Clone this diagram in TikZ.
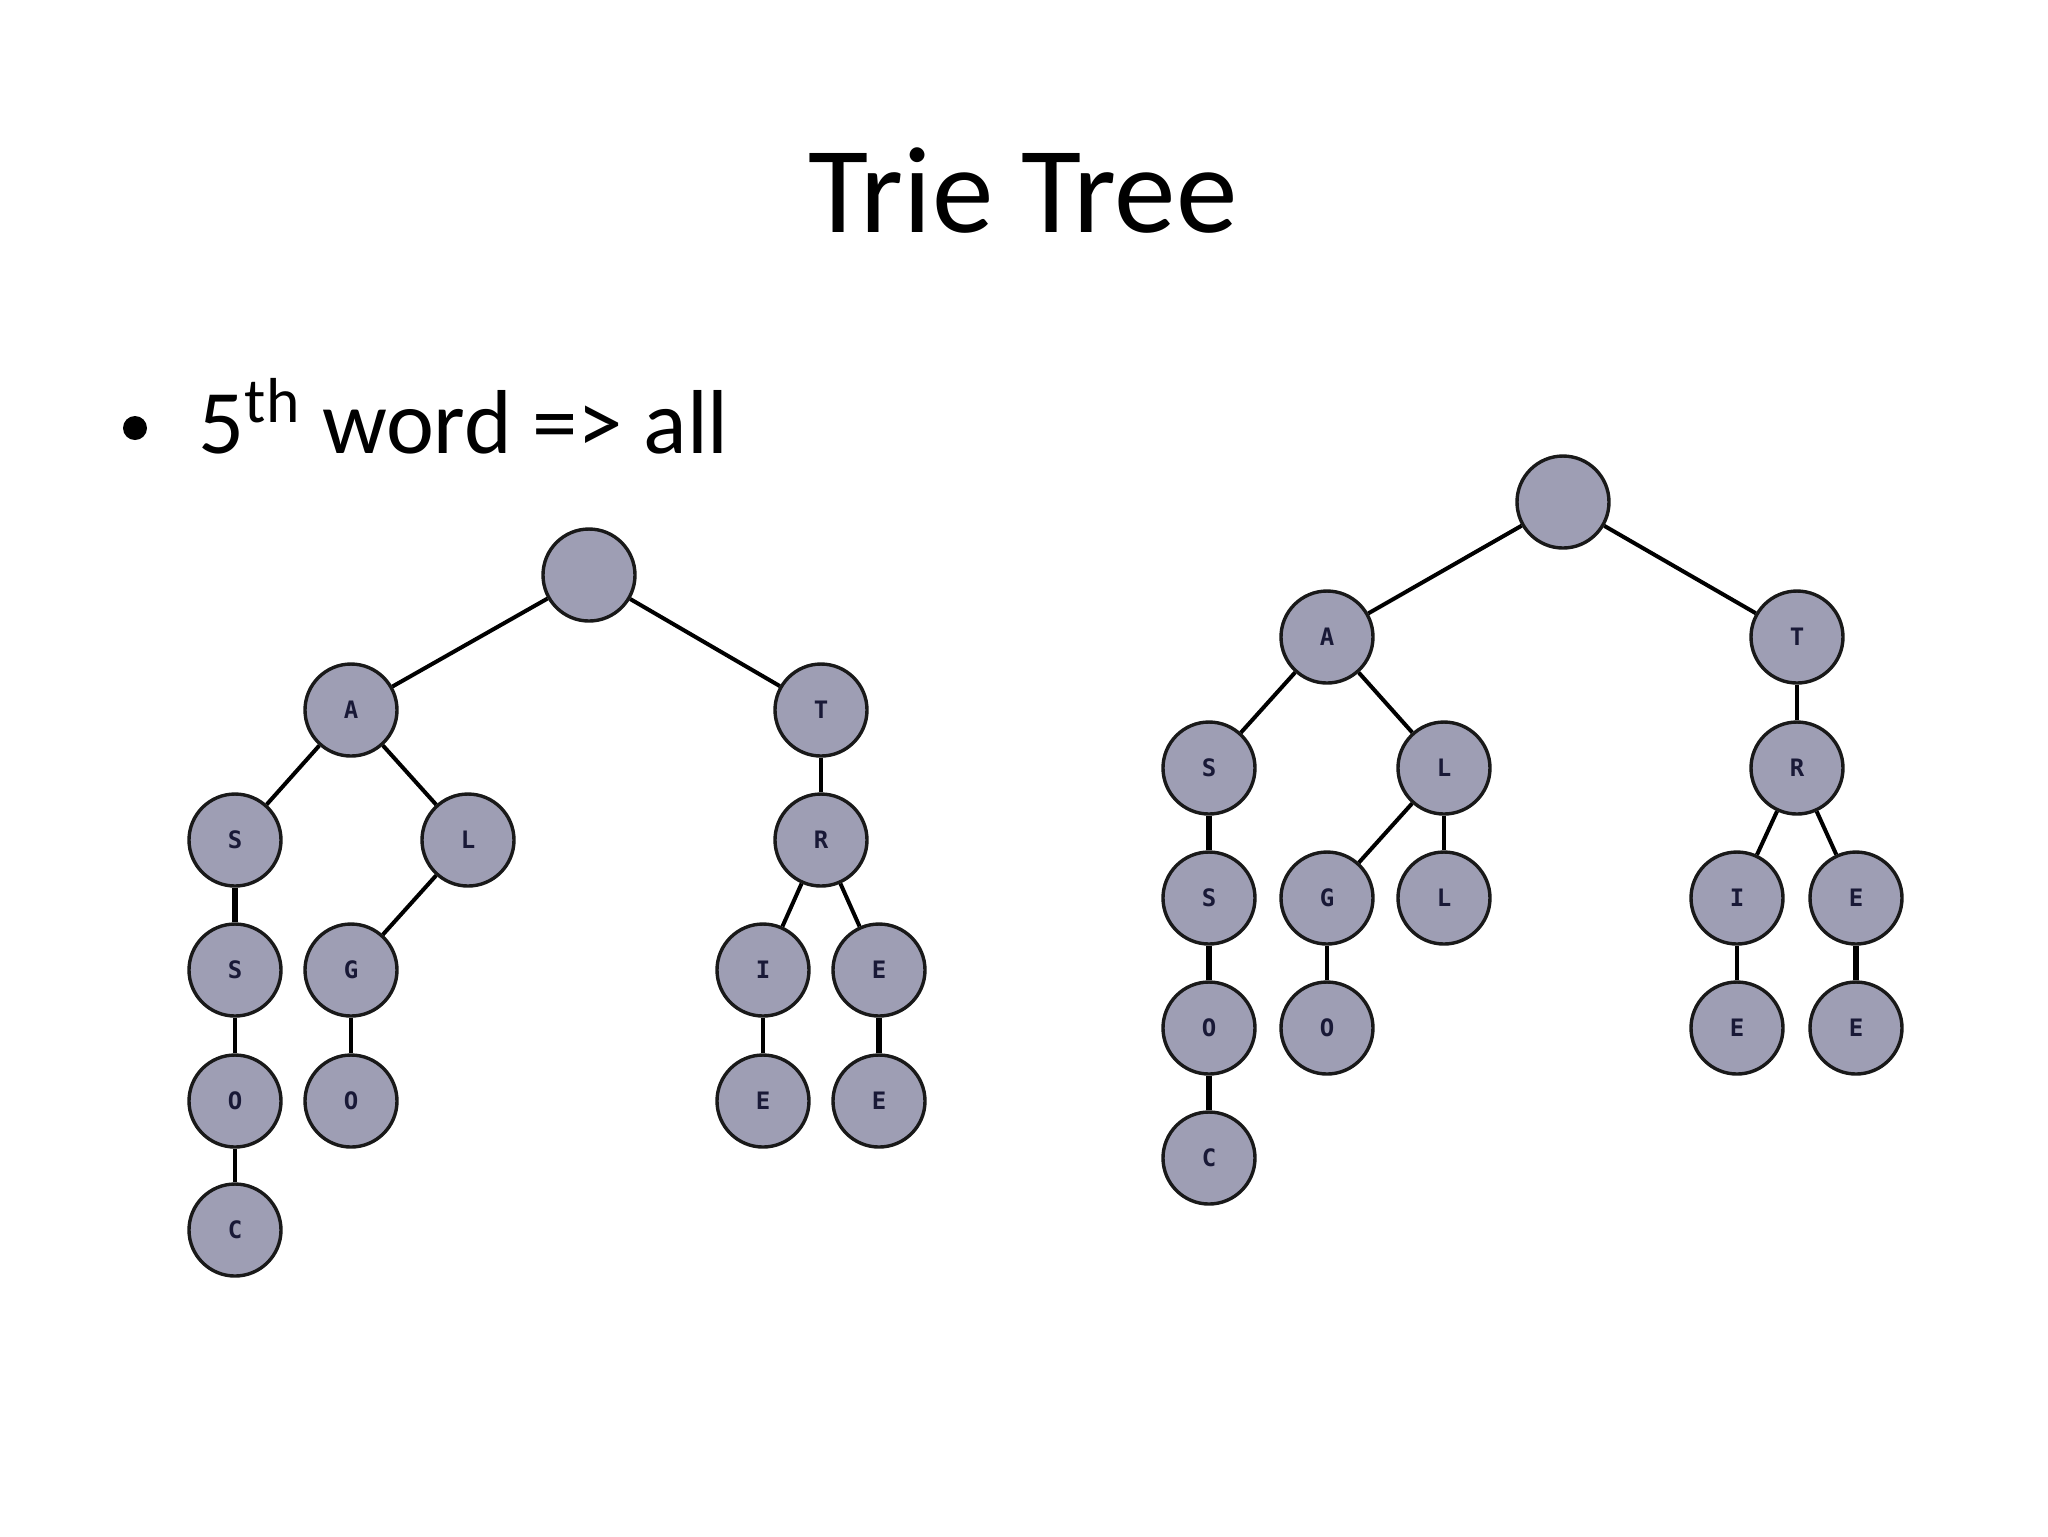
\documentclass[tikz,border=0pt]{standalone}
\usepackage{fontspec}
\setmainfont{Carlito}
\newfontfamily\letterfont{DejaVu Sans Mono}
\definecolor{trieFill}{RGB}{158,158,180}
\definecolor{letterCol}{RGB}{25,25,55}
\tikzset{
  tn/.style={circle, draw=black!90, line width=0.85pt, fill=trieFill,
    minimum size=23pt, inner sep=0pt, text=letterCol,
    font=\letterfont\bfseries\fontsize{6}{6}\selectfont},
  link/.style={line width=1pt, black}
}
\begin{document}
\begin{tikzpicture}[x=0.25pt,y=-0.25pt]
\useasboundingbox (0,0) rectangle (2048,1536);
\fill[white] (0,0) rectangle (2048,1536);
% title and bullet
\node (title) at (1023,232) [anchor=base, font=\fontsize{30.8}{36}\selectfont] {Trie Tree};
\node (bullet) at (135,428) [circle, fill=black, inner sep=0pt, minimum size=6pt] {};
\node (line) at (198,453) [anchor=base west, inner sep=0pt, font=\fontsize{22.7}{28}\selectfont] {5\textsuperscript{th} word => all};
% left tree
\node[tn] (lroot) at (589,575) {};
\node[tn] (lA) at (351,710) {A};
\node[tn] (lT) at (821,710) {T};
\node[tn] (lS) at (235,840) {S};
\node[tn] (lL) at (468,840) {L};
\node[tn] (lR) at (821,840) {R};
\node[tn] (lS2) at (235,970) {S};
\node[tn] (lG) at (351,970) {G};
\node[tn] (lI) at (763,970) {I};
\node[tn] (lE) at (879,970) {E};
\node[tn] (lO) at (235,1101) {O};
\node[tn] (lO2) at (351,1101) {O};
\node[tn] (lIE) at (763,1101) {E};
\node[tn] (lEE) at (879,1101) {E};
\node[tn] (lC) at (235,1230) {C};
\draw[link] (lroot) -- (lA);
\draw[link] (lroot) -- (lT);
\draw[link] (lA) -- (lS);
\draw[link] (lA) -- (lL);
\draw[link] (lT) -- (lR);
\draw[link, line width=1.4pt] (lS) -- (lS2);
\draw[link] (lL) -- (lG);
\draw[link] (lR) -- (lI);
\draw[link] (lR) -- (lE);
\draw[link] (lS2) -- (lO);
\draw[link] (lG) -- (lO2);
\draw[link] (lI) -- (lIE);
\draw[link, line width=1.4pt] (lE) -- (lEE);
\draw[link] (lO) -- (lC);
% right tree
\node[tn] (rroot) at (1563,502) {};
\node[tn] (rA) at (1327,637) {A};
\node[tn] (rT) at (1797,637) {T};
\node[tn] (rS) at (1209,768) {S};
\node[tn] (rL) at (1444,768) {L};
\node[tn] (rR) at (1797,768) {R};
\node[tn] (rS2) at (1209,898) {S};
\node[tn] (rG) at (1327,898) {G};
\node[tn] (rL2) at (1444,898) {L};
\node[tn] (rI) at (1737,898) {I};
\node[tn] (rE) at (1856,898) {E};
\node[tn] (rO) at (1209,1028) {O};
\node[tn] (rO2) at (1327,1028) {O};
\node[tn] (rIE) at (1737,1028) {E};
\node[tn] (rEE) at (1856,1028) {E};
\node[tn] (rC) at (1209,1158) {C};
\draw[link] (rroot) -- (rA);
\draw[link] (rroot) -- (rT);
\draw[link] (rA) -- (rS);
\draw[link] (rA) -- (rL);
\draw[link] (rT) -- (rR);
\draw[link, line width=1.4pt] (rS) -- (rS2);
\draw[link] (rL) -- (rG);
\draw[link] (rL) -- (rL2);
\draw[link] (rR) -- (rI);
\draw[link] (rR) -- (rE);
\draw[link, line width=1.4pt] (rS2) -- (rO);
\draw[link] (rG) -- (rO2);
\draw[link] (rI) -- (rIE);
\draw[link, line width=1.4pt] (rE) -- (rEE);
\draw[link, line width=1.4pt] (rO) -- (rC);
\end{tikzpicture}
\end{document}
